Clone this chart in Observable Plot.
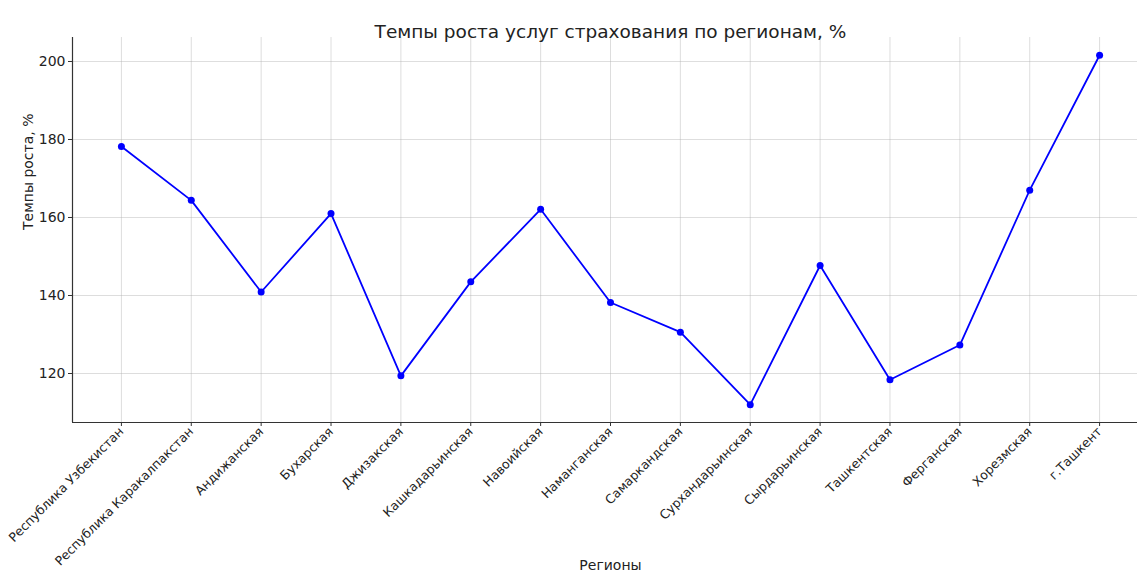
<!DOCTYPE html>
<html><head><meta charset="utf-8">
<script src="https://cdn.jsdelivr.net/npm/d3@7"></script>
<script src="https://cdn.jsdelivr.net/npm/@observablehq/plot@0.6"></script>
<style>html,body{margin:0;padding:0;background:#fff;overflow:hidden;width:1137px;height:577px}#chart svg{max-width:none!important;display:block}</style>
</head><body><div id="chart"></div>
<script>
const regions = ["Республика Узбекистан","Республика Каракалпакстан","Андижанская","Бухарская","Джизакская","Кашкадарьинская","Навоийская","Наманганская","Самаркандская","Сурхандарьинская","Сырдарьинская","Ташкентская","Ферганская","Хорезмская","г.Ташкент"];
const growth = [178.2, 164.4, 140.9, 161.0, 119.4, 143.5, 162.1, 138.2, 130.6, 112.0, 147.7, 118.4, 127.3, 167.0, 201.6];
const yTicks = [120, 140, 160, 180, 200];
const title = "Темпы роста услуг страхования по регионам, %";
const xLabel = "Регионы";
const yLabel = "Темпы роста, %";

const n = regions.length;
const data = regions.map((r, i) => ({i, region: r, value: growth[i]}));
const xDom = [-0.7, n - 1 + 0.7];
const yDom = [107.44, 206.15];

const chart = Plot.plot({
  width: 1148, height: 577,
  marginLeft: 72, marginRight: 0, marginTop: 37, marginBottom: 155,
  style: {fontFamily: "DejaVu Sans", background: "#fff", color: "#222", maxWidth: "none"},
  x: {type: "linear", domain: xDom},
  y: {domain: yDom},
  marks: [
    Plot.gridY(yTicks, {stroke: "#b0b0b0", strokeOpacity: 0.55, strokeWidth: 0.8}),
    Plot.gridX(d3.range(n), {stroke: "#b0b0b0", strokeOpacity: 0.55, strokeWidth: 0.8}),
    Plot.axisY(yTicks, {tickSize: 4, tickPadding: 3, fontSize: 14, label: null, stroke: "#333"}),
    Plot.axisX(d3.range(n), {tickFormat: i => regions[i], tickRotate: -45, tickSize: 4, tickPadding: 3, fontSize: 12.5, label: null, stroke: "#333"}),
    Plot.ruleY([yDom[0]], {stroke: "#333", strokeWidth: 1.2}),
    Plot.ruleX([xDom[0]], {stroke: "#333", strokeWidth: 1.2}),
    Plot.line(data, {x: "i", y: "value", stroke: "blue", strokeWidth: 1.8}),
    Plot.dot(data, {x: "i", y: "value", fill: "blue", r: 3.5}),
    Plot.text([title], {text: d => d, frameAnchor: "top", dy: -13, fontSize: 18.5, fill: "#222"}),
    Plot.text([xLabel], {text: d => d, frameAnchor: "bottom", dy: 147, fontSize: 14, fill: "#222"}),
    Plot.text([yLabel], {text: d => d, frameAnchor: "left", rotate: -90, dx: -44, fontSize: 14, fill: "#222"})
  ]
});
document.getElementById("chart").appendChild(chart);
</script>
</body></html>
